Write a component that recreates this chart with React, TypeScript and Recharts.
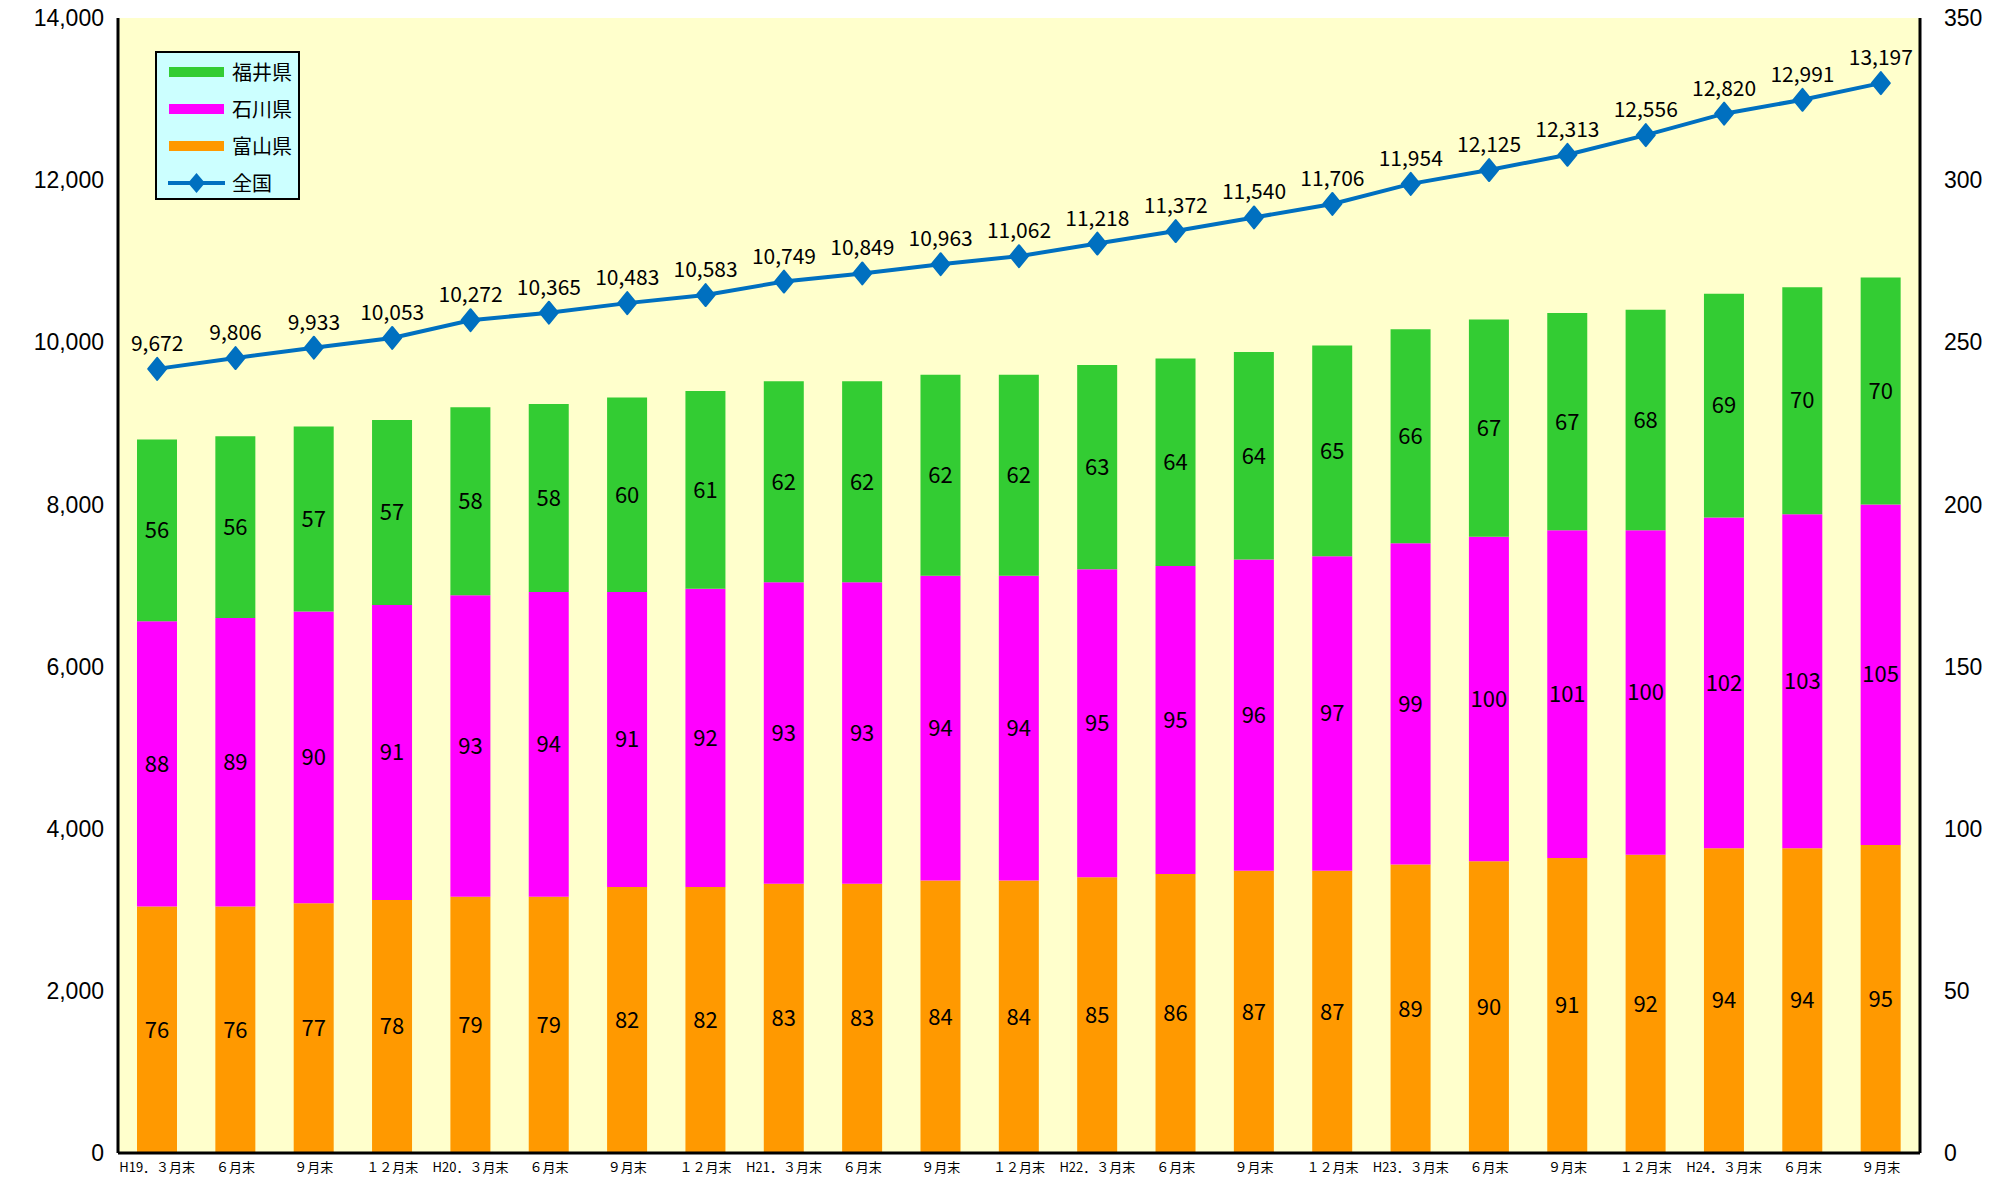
import React from "react";
import {
  Bar,
  CartesianGrid,
  ComposedChart,
  LabelList,
  Line,
  XAxis,
  YAxis,
} from "recharts";

const periods = [
  "H19．３月末", "６月末", "９月末", "１２月末",
  "H20．３月末", "６月末", "９月末", "１２月末",
  "H21．３月末", "６月末", "９月末", "１２月末",
  "H22．３月末", "６月末", "９月末", "１２月末",
  "H23．３月末", "６月末", "９月末", "１２月末",
  "H24．３月末", "６月末", "９月末",
];

const toyama = [76, 76, 77, 78, 79, 79, 82, 82, 83, 83, 84, 84, 85, 86, 87, 87, 89, 90, 91, 92, 94, 94, 95];
const ishikawa = [88, 89, 90, 91, 93, 94, 91, 92, 93, 93, 94, 94, 95, 95, 96, 97, 99, 100, 101, 100, 102, 103, 105];
const fukui = [56, 56, 57, 57, 58, 58, 60, 61, 62, 62, 62, 62, 63, 64, 64, 65, 66, 67, 67, 68, 69, 70, 70];
const zenkoku = [9672, 9806, 9933, 10053, 10272, 10365, 10483, 10583, 10749, 10849, 10963, 11062, 11218, 11372, 11540, 11706, 11954, 12125, 12313, 12556, 12820, 12991, 13197];

const leftTicks = [0, 2000, 4000, 6000, 8000, 10000, 12000, 14000];
const rightTicks = [0, 50, 100, 150, 200, 250, 300, 350];

const data = periods.map((p, i) => ({
  name: p + "_" + i,
  富山県: toyama[i],
  石川県: ishikawa[i],
  福井県: fukui[i],
  全国: zenkoku[i],
}));

const JP = "'Noto Sans CJK JP', sans-serif";
const NUM = "'Liberation Sans', Arial, sans-serif";
const BLUE = "#0070C0";

const Diamond = (props: any) => {
  const { cx, cy } = props;
  if (cx == null || cy == null) return null;
  return (
    <polygon
      points={`${cx},${cy - 11} ${cx + 9},${cy} ${cx},${cy + 11} ${cx - 9},${cy}`}
      fill={BLUE}
      stroke={BLUE}
      strokeWidth={2}
      strokeLinejoin="round"
    />
  );
};

const legendItems = [
  { name: "福井県", color: "#33CC33" },
  { name: "石川県", color: "#FF00FF" },
  { name: "富山県", color: "#FF9900" },
];

const LegendBox = () => (
  <div
    style={{
      position: "absolute",
      left: 155,
      top: 51,
      width: 141,
      height: 145,
      background: "#CCFFFF",
      border: "2px solid #000",
      fontFamily: JP,
      fontSize: 20,
      color: "#000",
    }}
  >
    {legendItems.map((it) => (
      <div key={it.name} style={{ display: "flex", alignItems: "center", height: 37 }}>
        <div style={{ width: 55, height: 10, background: it.color, marginLeft: 12, marginRight: 8 }} />
        <span>{it.name}</span>
      </div>
    ))}
    <div style={{ display: "flex", alignItems: "center", height: 37 }}>
      <svg width={59} height={24} style={{ marginLeft: 10, marginRight: 6 }}>
        <line x1={1} y1={12} x2={58} y2={12} stroke={BLUE} strokeWidth={4} />
        <polygon points="29.5,2 38,12 29.5,22 21,12" fill={BLUE} />
      </svg>
      <span>全国</span>
    </div>
  </div>
);

const fmt = (v: any) => Number(v).toLocaleString("en-US");

export default function App() {
  return (
    <div style={{ position: "absolute", left: 0, top: 0, width: 2004, height: 1184, background: "#fff" }}>
      <ComposedChart
        width={2004}
        height={1184}
        data={data}
        margin={{ top: 18, right: 0, bottom: 0, left: 0 }}
        barSize={40}
      >
        <CartesianGrid fill="#FFFFCC" horizontal={false} vertical={false} yAxisId="left" />
        <XAxis
          dataKey="name"
          interval={0}
          height={31}
          tickLine={false}
          axisLine={{ stroke: "#000", strokeWidth: 3 }}
          tickFormatter={(v: string) => v.split("_")[0]}
          tick={{ fontFamily: JP, fontSize: 13, fill: "#000" }}
          tickMargin={4}
        />
        <XAxis
          xAxisId="top"
          dataKey="name"
          orientation="top"
          height={0}
          tick={false}
          tickLine={false}
          axisLine={{ stroke: "#000", strokeWidth: 2 }}
        />
        <YAxis
          yAxisId="left"
          domain={[0, 14000]}
          ticks={leftTicks}
          width={118}
          tickFormatter={fmt}
          tickLine={false}
          axisLine={{ stroke: "#000", strokeWidth: 3 }}
          tick={{ fontFamily: NUM, fontSize: 23, fill: "#000" }}
          tickMargin={8}
          interval={0}
        />
        <YAxis
          yAxisId="right"
          orientation="right"
          domain={[0, 350]}
          ticks={rightTicks}
          width={84}
          tickLine={false}
          axisLine={{ stroke: "#000", strokeWidth: 3 }}
          tick={{ fontFamily: NUM, fontSize: 23, fill: "#000" }}
          tickMargin={18}
          interval={0}
        />
        <Bar yAxisId="right" dataKey="富山県" stackId="a" fill="#FF9900" isAnimationActive={false}>
          <LabelList dataKey="富山県" position="center" fill="#000" fontSize={22} fontFamily={JP} />
        </Bar>
        <Bar yAxisId="right" dataKey="石川県" stackId="a" fill="#FF00FF" isAnimationActive={false}>
          <LabelList dataKey="石川県" position="center" fill="#000" fontSize={22} fontFamily={JP} />
        </Bar>
        <Bar yAxisId="right" dataKey="福井県" stackId="a" fill="#33CC33" isAnimationActive={false}>
          <LabelList dataKey="福井県" position="center" fill="#000" fontSize={22} fontFamily={JP} />
        </Bar>
        <Line
          yAxisId="left"
          dataKey="全国"
          stroke={BLUE}
          strokeWidth={4}
          dot={<Diamond />}
          activeDot={false}
          isAnimationActive={false}
        >
          <LabelList dataKey="全国" position="top" offset={18} formatter={fmt} fill="#000" fontSize={21} fontFamily={JP} />
        </Line>
      </ComposedChart>
      <LegendBox />
    </div>
  );
}
